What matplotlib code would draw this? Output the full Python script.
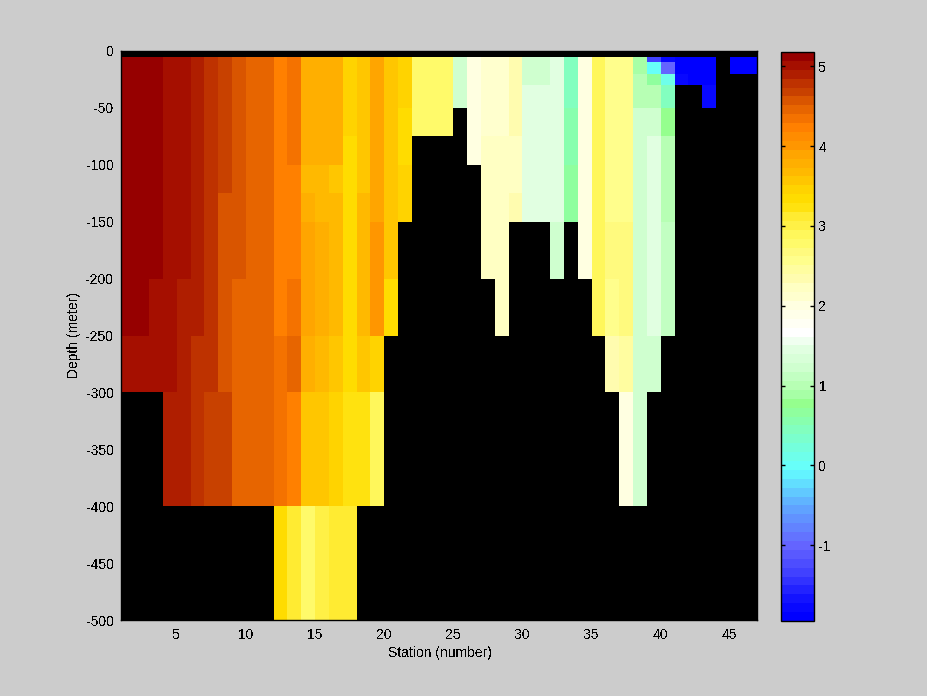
import numpy as np
import matplotlib
matplotlib.use("Agg")
import matplotlib.pyplot as plt
from matplotlib.colors import ListedColormap

plt.rcParams['font.family'] = ['Liberation Sans', 'DejaVu Sans']
plt.rcParams['axes.unicode_minus'] = False
plt.rcParams['text.antialiased'] = False

n = None
stations = np.arange(1, 48)
depths = [0, 5, 10, 20, 30, 50, 75, 100, 125, 150, 200, 250, 300, 400, 500]

row_0_5 = [n]*46
row_5_10 = [5.12,5.12,5.12,5.01,5.01,4.9,4.79,4.68,4.57,4.46,4.46,4.23,4.34,3.79,3.79,3.79,3.46,3.57,3.9,3.57,3.46,2.8,2.8,2.8,1.2,1.95,2.15,2.15,2.34,1.2,1.2,1.4,.45,1.95,2.9,2.6,2.6,.9,-1.3,-1.75,-1.95,-1.95,-1.95,n,-1.95,-1.95]
row_10_20 = [5.12,5.12,5.12,5.01,5.01,4.9,4.79,4.68,4.57,4.46,4.46,4.23,4.34,3.79,3.79,3.79,3.46,3.57,3.9,3.57,3.46,2.8,2.8,2.8,1.2,1.95,2.15,2.15,2.34,1.2,1.2,1.4,.45,1.95,2.9,2.6,2.6,.9,-.05,-1,-1.95,-1.95,-1.95,n,-1.95,-1.95]
row_20_30 = [5.12,5.12,5.12,5.01,5.01,4.9,4.79,4.68,4.57,4.46,4.46,4.23,4.34,3.79,3.79,3.79,3.46,3.57,3.9,3.57,3.46,2.8,2.8,2.8,1.2,1.95,2.15,2.15,2.34,1.2,1.2,1.4,.45,1.95,2.9,2.6,2.6,1.0,.65,.1,-1.75,-1.95,-1.95,n,n,n]
row_30_50 = [5.12,5.12,5.12,5.01,5.01,4.9,4.79,4.68,4.57,4.46,4.46,4.23,4.34,3.79,3.79,3.79,3.46,3.57,3.9,3.57,3.46,2.8,2.8,2.8,1.2,1.95,2.15,2.15,2.34,1.4,1.4,1.4,.45,1.95,2.9,2.6,2.6,1.0,.98,.45,n,n,-1.75,n,n,n]
row_50_75 = [5.12,5.12,5.12,5.01,5.01,4.9,4.79,4.68,4.57,4.46,4.46,4.23,4.34,3.79,3.79,3.79,3.46,3.57,3.9,3.57,3.34,2.8,2.8,2.8,n,1.95,2.15,2.15,2.34,1.4,1.4,1.4,.55,1.95,2.9,2.6,2.6,1.2,1.2,.8,n,n,n,n,n,n]
row_75_100 = [5.12,5.12,5.12,5.01,5.01,4.9,4.79,4.68,4.57,4.46,4.46,4.23,4.34,3.79,3.79,3.79,3.34,3.57,3.9,3.57,3.34,n,n,n,n,1.95,2.23,2.23,2.23,1.4,1.4,1.4,.55,1.95,2.9,2.6,2.6,1.2,1.4,1.0,n,n,n,n,n,n]
row_100_125 = [5.12,5.12,5.12,5.01,5.01,4.9,4.79,4.68,4.57,4.46,4.46,4.23,4.23,3.68,3.68,3.57,3.34,3.57,3.9,3.57,3.46,n,n,n,n,n,2.23,2.23,2.23,1.4,1.4,1.4,.72,1.95,2.9,2.6,2.6,1.2,1.4,1.0,n,n,n,n,n,n]
row_125_150 = [5.12,5.12,5.12,5.01,5.01,4.9,4.79,4.57,4.57,4.46,4.46,4.23,4.23,3.79,3.68,3.68,3.34,3.68,3.9,3.57,3.46,n,n,n,n,n,2.23,2.23,2.34,1.4,1.4,1.4,.72,2.01,2.9,2.6,2.6,1.2,1.4,1.0,n,n,n,n,n,n]
row_150_200 = [5.12,5.12,5.12,5.01,5.01,4.9,4.79,4.57,4.57,4.46,4.46,4.23,4.23,3.9,3.79,3.68,3.34,3.68,4.01,3.57,n,n,n,n,n,n,2.23,2.23,n,n,n,1.2,n,1.95,2.9,2.68,2.68,1.2,1.4,1.12,n,n,n,n,n,n]
row_200_250 = [5.12,5.12,5.01,5.01,4.9,4.9,4.79,4.57,4.46,4.46,4.46,4.23,4.34,3.9,3.79,3.68,3.34,3.68,4.01,3.34,n,n,n,n,n,n,n,2.23,n,n,n,n,n,n,2.9,2.56,2.68,1.2,1.4,1.12,n,n,n,n,n,n]
row_250_300 = [5.01,5.01,5.01,5.01,4.9,4.79,4.79,4.57,4.46,4.46,4.46,4.34,4.46,3.79,3.68,3.57,3.34,3.57,3.46,n,n,n,n,n,n,n,n,n,n,n,n,n,n,n,n,2.34,2.45,1.2,1.2,n,n,n,n,n,n,n]
row_300_400 = [n,n,n,4.9,4.9,4.79,4.68,4.68,4.46,4.46,4.46,4.34,4.23,3.57,3.57,3.46,3.23,3.23,2.9,n,n,n,n,n,n,n,n,n,n,n,n,n,n,n,n,n,1.95,1.2,n,n,n,n,n,n,n,n]
row_400_500 = [n,n,n,n,n,n,n,n,n,n,n,3.34,3.12,2.79,3.01,3.12,3.12,n,n,n,n,n,n,n,n,n,n,n,n,n,n,n,n,n,n,n,n,n,n,n,n,n,n,n,n,n]

rows = [row_0_5,row_5_10,row_10_20,row_20_30,row_30_50,row_50_75,row_75_100,row_100_125,
        row_125_150,row_150_200,row_200_250,row_250_300,row_300_400,row_400_500]

x_ticks = [5,10,15,20,25,30,35,40,45]
y_ticks = [0,-50,-100,-150,-200,-250,-300,-350,-400,-450,-500]
cbar_ticks = [-1,0,1,2,3,4,5]
vmin, vmax = -1.95, 5.18

anchors = [(-1.89,(0,0,255)),(-1.7,(15,15,255)),(-1.3,(70,70,255)),(-1,(100,100,255)),(-.5,(95,170,255)),
           (-.05,(100,255,255)),(.45,(130,255,190)),(.79,(150,255,140)),(.9,(168,255,168)),(1.0,(183,255,180)),
           (1.12,(195,255,195)),(1.23,(208,255,208)),(1.45,(225,255,225)),(1.67,(255,255,255)),
           (1.9,(255,255,232)),(2.01,(255,255,225)),(2.12,(255,255,205)),(2.23,(255,255,195)),(2.34,(255,252,175)),
           (2.45,(255,253,160)),(2.56,(255,254,140)),(2.68,(255,250,125)),(2.79,(255,250,105)),(2.9,(255,247,90)),
           (3.01,(255,240,70)),(3.12,(255,235,50)),(3.23,(255,226,15)),(3.34,(255,220,0)),(3.46,(255,210,0)),
           (3.57,(255,197,0)),(3.68,(255,185,0)),(3.79,(255,175,0)),(3.9,(255,165,0)),(4.01,(255,150,0)),
           (4.12,(255,140,0)),(4.23,(255,128,0)),(4.34,(245,115,0)),(4.46,(230,100,0)),(4.57,(217,85,0)),
           (4.68,(200,65,0)),(4.79,(190,50,0)),(4.9,(175,30,0)),(5.01,(165,15,0)),(5.12,(150,0,0))]
a_v = [a[0] for a in anchors]
centers = vmin + (np.arange(64)+.5)/64*(vmax-vmin)
lut = np.column_stack([np.interp(centers, a_v, [a[1][i]/255 for a in anchors]) for i in range(3)])
cmap = ListedColormap(lut)
cmap.set_bad('black')

W,H = 928,696
fig = plt.figure(figsize=(W/100,H/100), dpi=100, facecolor='#cccccc')
ax = fig.add_axes([121.5/W, 1-620/H, 636/W, 569/H])
data = np.ma.masked_invalid(np.array(rows,dtype=float))
ax.set_facecolor('black')
mesh = ax.pcolormesh(stations, -np.array(depths), data, cmap=cmap, vmin=vmin, vmax=vmax, shading='flat')
ax.set_xlim(1,47); ax.set_ylim(-500,0)
ax.set_xticks(x_ticks); ax.set_yticks(y_ticks)
ax.tick_params(length=0, labelsize=10, pad=5.5)
for s in ax.spines.values(): s.set_linewidth(1)
ax.set_xlabel('Station (number)', fontsize=10, labelpad=3)
ax.set_ylabel('Depth (meter)', fontsize=10, labelpad=3.5)

cax = fig.add_axes([781.5/W, 1-621/H, 33/W, 569/H])
cb = fig.colorbar(mesh, cax=cax)
cb.set_ticks(cbar_ticks)
cax.tick_params(direction='in', length=3, labelsize=10, width=1, left=True, right=True, pad=3)
cb.outline.set_linewidth(1)
fig.savefig('out.png', dpi=100, facecolor=fig.get_facecolor())
